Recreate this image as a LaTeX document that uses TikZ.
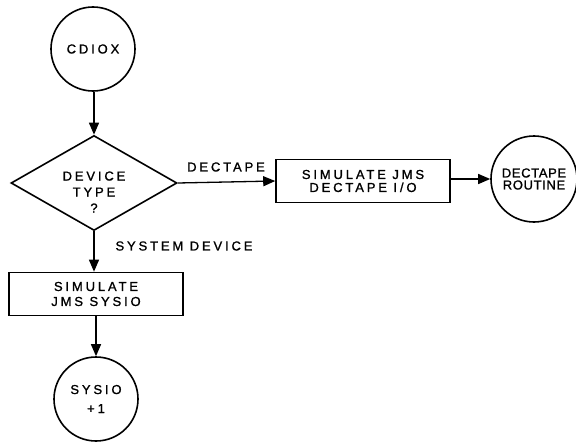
\documentclass[tikz,border=0pt]{standalone}
\usepackage{fontspec}
\setmainfont{Liberation Sans}[LetterSpace=22,FakeBold=1.2]
\newfontfamily\tightfont{Liberation Sans}[LetterSpace=5,FakeBold=1.2]
\usetikzlibrary{shapes.geometric,arrows.meta}
\begin{document}
\begin{tikzpicture}[x=1pt,y=-1pt,
  every node/.style={font=\fontsize{13}{15}\selectfont},
  term/.style={draw,circle,line width=1.6pt,minimum size=84pt,inner sep=0pt,align=center},
  proc/.style={draw,rectangle,line width=1.6pt,minimum width=174pt,minimum height=43pt,inner sep=0pt,align=center},
  dec/.style={draw,diamond,line width=1.6pt,minimum width=166pt,minimum height=95pt,inner sep=0pt},
  flow/.style={line width=1.3pt,-{Triangle[length=12pt,width=10pt]}},
  lbl/.style={inner sep=0pt}]
\useasboundingbox (0,0) rectangle (576,444);
\node[term] (cdiox) at (93,49) {CDIOX};
\node[dec] (dt) at (94,183) {};
\node[lbl,align=center,font=\fontsize{13}{16}\selectfont] (dttext) at (94,192) {DEVICE\\TYPE\\?};
\node[proc] (simdt) at (363,181) {SIMULATE JMS\\[-2pt]DECTAPE I/O};
\node[term,minimum size=86pt,font=\tightfont\fontsize{13}{12}\selectfont] (dtr) at (534,179) {DECTAPE\\ROUTINE};
\node[proc] (simsys) at (96,294) {SIMULATE\\JMS SYSIO};
\node[term,font=\fontsize{13}{19}\selectfont] (sysio) at (96,399) {SYSIO\\+1};
\node[lbl] (l1) at (226,167) {DECTAPE};
\node[lbl] (l2) at (184,246) {SYSTEM DEVICE};
\draw[flow] (cdiox.south -| dt.north) -- (dt.north);
\draw[flow] (dt.east) -- (simdt.west);
\draw[flow] (simdt.east |- dtr.west) -- (dtr.west);
\draw[flow] (dt.south) -- (simsys.north -| dt.south);
\draw[flow] (simsys.south -| sysio.north) -- (sysio.north);
\end{tikzpicture}
\end{document}
